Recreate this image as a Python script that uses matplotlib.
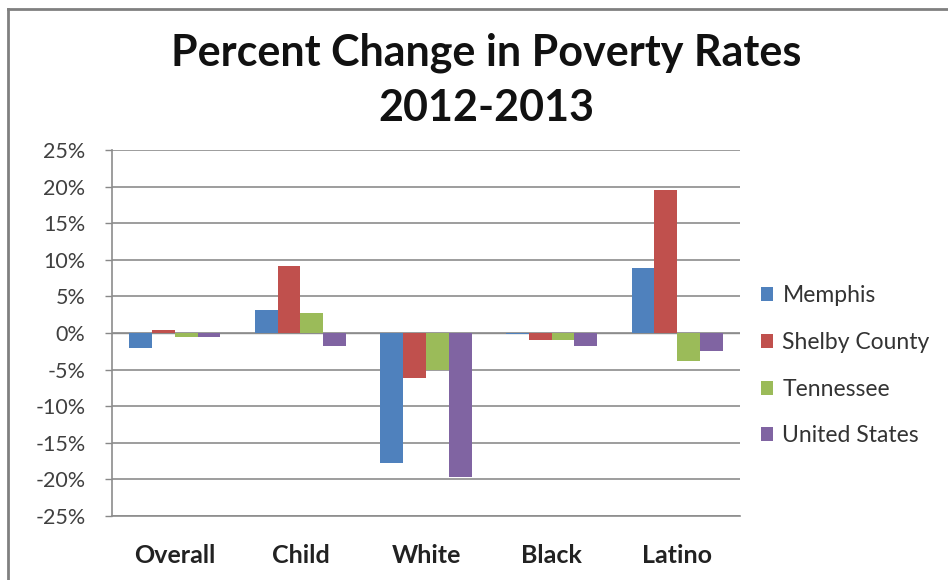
import matplotlib
matplotlib.use("Agg")
import matplotlib.pyplot as plt
import numpy as np
from matplotlib.lines import Line2D

categories = ["Overall", "Child", "White", "Black", "Latino"]
series_names = ["Memphis", "Shelby County", "Tennessee", "United States"]
memphis = [-2.1, 3.1, -17.7, -0.1, 8.9]
shelby = [0.4, 9.1, -6.2, -1.0, 19.6]
tennessee = [-0.5, 2.8, -5.0, -0.9, -3.8]
united_states = [-0.6, -1.8, -19.7, -1.8, -2.4]
yticks = [-25, -20, -15, -10, -5, 0, 5, 10, 15, 20, 25]
colors = ["#4F81BD", "#C0504D", "#9BBB59", "#8064A2"]

plt.rcParams['font.family'] = ['Lato', 'DejaVu Sans']

fig = plt.figure(figsize=(9.48, 5.8), dpi=100)
ax = fig.add_axes([112/948, 64/580, 628/948, 366/580])

data = [memphis, shelby, tennessee, united_states]
x = np.arange(len(categories))
bw = 1/5.5
for i, (vals, name, c) in enumerate(zip(data, series_names, colors)):
    ax.bar(x + (i - 1.5) * bw, vals, bw, color=c, label=name, zorder=3)

ax.set_xlim(-0.5, len(categories) - 0.5)
ax.set_ylim(-25, 25)
ax.set_yticks(yticks)
ax.set_yticklabels([f"{v}%" for v in yticks], fontsize=15.5, color="#404040")
ax.set_xticks(x)
ax.set_xticklabels(categories, fontsize=18, fontweight="bold", color="#222222")
ax.tick_params(axis="x", length=0, pad=20)
ax.tick_params(axis="y", length=5, color="#888888", width=1, pad=14)
ax.grid(axis="y", color="#8c8c8c", linewidth=1.2, zorder=0)
ax.axhline(0, color="#8c8c8c", linewidth=1, zorder=2)
for s in ["top", "right"]:
    ax.spines[s].set_visible(False)
ax.spines["left"].set_color("#8c8c8c")
ax.spines["bottom"].set_color("#8c8c8c")
ax.spines["left"].set_linewidth(1.2)
ax.spines["bottom"].set_linewidth(1.2)

fig.text(486/948, 1 - 53/580, "Percent Change in Poverty Rates", ha="center", va="center",
         fontsize=31, fontweight="bold", color="#111111")
fig.text(486/948, 1 - 108/580, "2012-2013", ha="center", va="center",
         fontsize=31, fontweight="bold", color="#111111")

leg = ax.legend(loc="center left", bbox_to_anchor=(1.0, 0.41), frameon=False,
                fontsize=16.5, handlelength=0.55, handleheight=0.55, handletextpad=0.4,
                labelspacing=1.12, labelcolor="#333333")

# outer chart border (top and left)
fig.add_artist(Line2D([8/948, 1], [1 - 9/580, 1 - 9/580], color="#808080", linewidth=2,
                      transform=fig.transFigure))
fig.add_artist(Line2D([8/948, 8/948], [0, 1 - 9/580], color="#808080", linewidth=2,
                      transform=fig.transFigure))

fig.savefig("out.png", dpi=100)
